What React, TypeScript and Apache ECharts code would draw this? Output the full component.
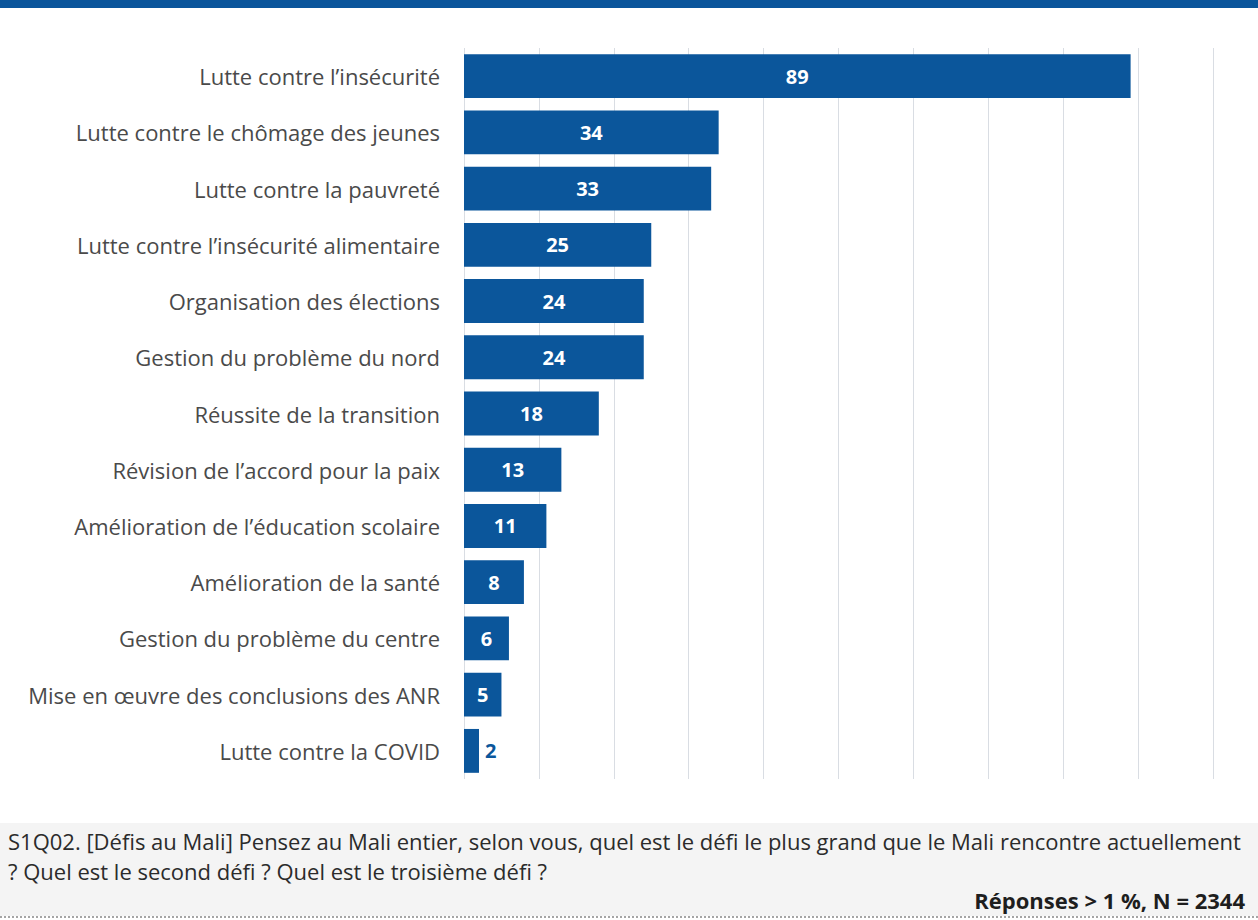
import React, { useEffect, useRef } from "react";
import * as echarts from "echarts";

const categories = [
  "Lutte contre l’insécurité",
  "Lutte contre le chômage des jeunes",
  "Lutte contre la pauvreté",
  "Lutte contre l’insécurité alimentaire",
  "Organisation des élections",
  "Gestion du problème du nord",
  "Réussite de la transition",
  "Révision de l’accord pour la paix",
  "Amélioration de l’éducation scolaire",
  "Amélioration de la santé",
  "Gestion du problème du centre",
  "Mise en œuvre des conclusions des ANR",
  "Lutte contre la COVID",
];
const values = [89, 34, 33, 25, 24, 24, 18, 13, 11, 8, 6, 5, 2];
const questionLine1 =
  "S1Q02. [Défis au Mali] Pensez au Mali entier, selon vous, quel est le défi le plus grand que le Mali rencontre actuellement";
const questionLine2 = "? Quel est le second défi ? Quel est le troisième défi ?";
const noteText = "Réponses > 1 %, N = 2344";

const BLUE = "#0b569b";
const FONT = "'Open Sans', Lato, sans-serif";

export default function App() {
  const ref = useRef<HTMLDivElement>(null);
  useEffect(() => {
    document.body.style.margin = "0";
    const chart = echarts.init(ref.current!, null, { renderer: "svg" });
    chart.setOption({
      animation: false,
      backgroundColor: "#ffffff",
      grid: { left: 464, right: 45, top: 48, height: 731, containLabel: false },
      xAxis: {
        type: "value",
        min: 0,
        max: 100,
        interval: 10,
        axisLabel: { show: false },
        axisLine: { show: false },
        axisTick: { show: false },
        splitLine: { show: true, lineStyle: { color: "#d9dde3", width: 1 } },
      },
      yAxis: {
        type: "category",
        inverse: true,
        data: categories,
        axisLine: { show: false },
        axisTick: { show: false },
        axisLabel: {
          color: "#4a4a4a",
          fontSize: 22,
          fontFamily: FONT,
          margin: 24,
        },
      },
      series: [
        {
          type: "bar",
          data: values.map((v) => ({
            value: v,
            label:
              v < 4
                ? { position: "right", color: BLUE, distance: 6 }
                : { position: "inside", color: "#ffffff" },
          })),
          barCategoryGap: "22%",
          itemStyle: { color: BLUE },
          label: {
            show: true,
            fontSize: 20,
            fontWeight: "bold",
            fontFamily: FONT,
          },
        },
      ],
      graphic: [
        { type: "rect", left: 0, top: 0, shape: { width: 1258, height: 8 }, style: { fill: "#0a559b" } },
        { type: "rect", left: 0, top: 823, shape: { width: 1258, height: 93 }, style: { fill: "#f4f4f4" } },
        {
          type: "line",
          shape: { x1: 0, y1: 917, x2: 1258, y2: 917 },
          style: { stroke: "#888", lineWidth: 1.5, lineDash: [2, 2] },
        },
        {
          type: "text",
          left: 8,
          top: 830,
          style: { text: questionLine1, fill: "#2b2b2b", fontSize: 22, fontFamily: FONT },
        },
        {
          type: "text",
          left: 8,
          top: 860,
          style: { text: questionLine2, fill: "#2b2b2b", fontSize: 22, fontFamily: FONT },
        },
        {
          type: "text",
          right: 13,
          top: 889,
          style: { text: noteText, fill: "#1e1e1e", fontSize: 22, fontWeight: "bold", fontFamily: FONT },
        },
      ],
    });
    return () => chart.dispose();
  }, []);
  return (
    <div
      ref={ref}
      style={{ position: "absolute", left: 0, top: 0, width: 1258, height: 920 }}
    />
  );
}
